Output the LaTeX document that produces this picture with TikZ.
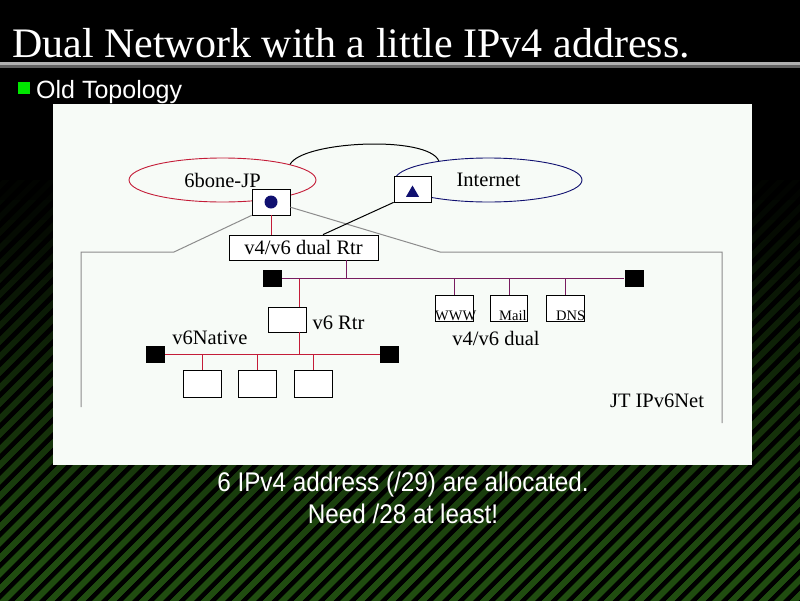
\documentclass[tikz,border=0pt]{standalone}
\usepackage{fontspec}
\setmainfont{Liberation Serif}
\newfontfamily\slidesans{Liberation Sans}
\newfontfamily\narrowsans[FakeStretch=0.9]{Liberation Sans}
\usetikzlibrary{positioning, shapes.geometric, calc}

\definecolor{panelwhite}{RGB}{247,251,247}
\definecolor{stripegreen}{RGB}{32,76,16}
\definecolor{bulletgreen}{RGB}{0,230,0}
\definecolor{rulelight}{RGB}{176,176,176}
\definecolor{ruledark}{RGB}{96,96,96}
\definecolor{sixred}{RGB}{196,28,56}
\definecolor{netblue}{RGB}{16,16,112}
\definecolor{dualpurple}{RGB}{120,28,96}
\definecolor{framegray}{RGB}{140,140,140}

\begin{document}
\begin{tikzpicture}[x=1pt, y=-1pt, font=\fontsize{20.5}{24}\selectfont]
    \tikzstyle{dev} = [rectangle, draw=black, fill=white, line width=0.8pt, minimum width=38pt, minimum height=26pt, inner sep=0pt]
    \tikzstyle{term} = [rectangle, fill=black, minimum width=19pt, minimum height=17pt, inner sep=0pt]
    \tikzstyle{cloudnet} = [ellipse, line width=0.9pt, minimum width=187pt, minimum height=44pt, inner sep=0pt]
    \tikzstyle{lbl} = [inner sep=0pt]
    \tikzstyle{srvlbl} = [inner sep=0pt, anchor=base west, font=\fontsize{14.5}{16}\selectfont]
    \tikzstyle{slidetext} = [inner sep=0pt, text=white]
    \tikzstyle{wire} = [line width=1pt]

    \useasboundingbox (0,0) rectangle (800,600);
    \fill[black] (-10,-10) rectangle (810,610);
    % striped backdrop, fading out towards the top
    \foreach \band in {0,...,20} {
        \pgfmathtruncatemacro{\shade}{5*\band}
        \begin{scope}
            \clip (-10,160+20*\band) rectangle (810,610);
            \foreach \sx in {-600,-584.5,...,800}
                \draw[stripegreen!\shade!black, line width=5.5pt] (\sx-30,630) -- (\sx+630,-30);
        \end{scope}
    }

    \fill[rulelight] (-10,62) rectangle (810,65.3);
    \fill[ruledark] (-10,65.3) rectangle (810,68);
    \node [slidetext, anchor=base west, font=\fontsize{42}{48}\selectfont] (title) at (12,57) {Dual Network with a little IPv4 address.};
    \node [fill=bulletgreen, minimum size=12pt, inner sep=0pt] (bullet) at (24,88) {};
    \node [slidetext, anchor=base west, font=\slidesans\fontsize{25}{30}\selectfont] (subtitle) at (36,98) {Old Topology};

    \fill[panelwhite] (53,104) rectangle (752,465);

    \node [cloudnet, draw=sixred] (sixbone) at (222.5,180) {6bone-JP};
    \node [cloudnet, draw=netblue] (inet) at (488.5,180) {Internet};
    \draw [wire] (sixbone.13) .. controls (302,141) and (428,135) .. (inet.159);

    \node [dev] (jprtr) at (271,202) {};
    \node [circle, fill=netblue, minimum size=13pt, inner sep=0pt] (jpdot) at (jprtr.center) {};
    \node [dev, minimum width=37pt] (inetrtr) at (412.5,189) {};
    \node [regular polygon, regular polygon sides=3, fill=netblue, minimum size=15pt, inner sep=0pt] (inetmark) at (412.5,193) {};

    \node [dev, minimum width=149pt, minimum height=25pt] (dualrtr) at (303.5,247.5) {v4/v6 dual Rtr};

    \node [term] (lt1) at (272.5,278.5) {};
    \node [term] (rt1) at (634,278.5) {};
    \node [term] (lt2) at (155.5,354) {};
    \node [term] (rt2) at (389.5,354) {};

    \node [dev] (www) at (454,308) {};
    \node [dev, minimum width=37pt, right=17pt of www] (mail) {};
    \node [dev, right=18pt of mail] (dns) {};
    \node [srvlbl] (wwwlbl) at (435,320) {WWW};
    \node [srvlbl] (maillbl) at (499,320) {Mail};
    \node [srvlbl] (dnslbl) at (556,320) {DNS};
    \node [lbl] (duallbl) at (496,338) {v4/v6 dual};

    \node [dev, minimum height=25pt] (v6rtr) at (287,319.5) {};
    \node [lbl, right=6pt of v6rtr, yshift=-3pt] (v6rtrlbl) {v6 Rtr};
    \node [lbl] (nativelbl) at (210,338) {v6Native};

    \node [dev, minimum height=27pt] (hosta) at (202,383.5) {};
    \node [dev, minimum height=27pt, right=17pt of hosta] (hostb) {};
    \node [dev, minimum height=27pt, right=17pt of hostb] (hostc) {};

    \node [lbl] (netlbl) at (657,401) {JT IPv6Net};

    \coordinate (dualtap) at ($(dualrtr.north)+(19.5,0)$);
    \coordinate (dualdrop) at ($(dualrtr.south)+(42.5,0)$);
    \coordinate (v6tap) at ($(v6rtr.north)+(12,0)$);
    \coordinate (v6out) at ($(v6rtr.south)+(12,0)$);
    \coordinate (lbend) at (174,252);
    \coordinate (lcorner) at (81,252);
    \coordinate (lend) at (81,407);
    \coordinate (rbend) at (440,252);
    \coordinate (rcorner) at (722,252);
    \coordinate (rend) at (722,423);

    \draw [wire, framegray] (jprtr.south west) -- (lbend) -- (lcorner) -- (lend);
    \draw [wire, framegray] (jprtr.-15) -- (rbend) -- (rcorner) -- (rend);
    \draw [wire, sixred] (jprtr.south) -- (jprtr.south |- dualrtr.north);
    \draw [wire] (inetrtr.south west) -- (dualtap);

    \draw [wire, dualpurple] (lt1.east) -- (rt1.west);
    \draw [wire, dualpurple] (dualdrop) -- (dualdrop |- lt1);
    \foreach \srv in {www,mail,dns}
        \draw [wire, dualpurple] (\srv.north) -- (\srv.north |- lt1);

    \draw [wire, sixred] (v6tap) -- (v6tap |- lt1);
    \draw [wire, sixred] (v6out) -- (v6out |- lt2);
    \draw [wire, sixred] (lt2.east) -- (rt2.west);
    \foreach \host in {hosta,hostb,hostc}
        \draw [wire, sixred] (\host.north) -- (\host.north |- lt2);

    \node [slidetext, anchor=base, font=\narrowsans\fontsize{27}{32}\selectfont] (note) at (403,491) {6 IPv4 address (/29) are allocated.};
    \node [slidetext, anchor=base, font=\narrowsans\fontsize{27}{32}\selectfont] (noteb) at (403,523) {Need /28 at least!};
\end{tikzpicture}
\end{document}
